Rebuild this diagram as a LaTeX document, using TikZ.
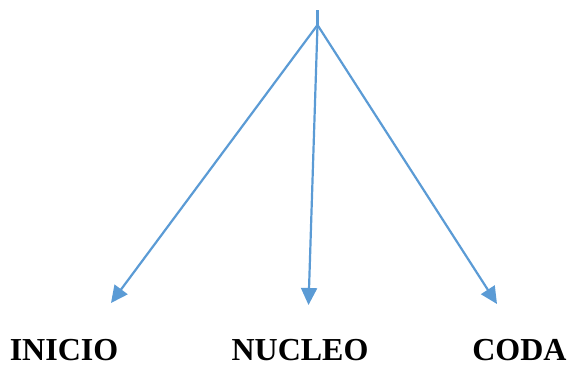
\documentclass[tikz,border=0pt]{standalone}
\usepackage{fontspec}
\setmainfont{Liberation Serif}
\usetikzlibrary{arrows.meta}
\definecolor{branchblue}{RGB}{91,155,213}
\tikzset{
	branch/.style={draw=branchblue, line width=2.2pt, -{Triangle[length=17pt,width=16pt]}},
	part/.style={font=\bfseries\fontsize{32}{36}\selectfont, anchor=base, inner sep=0pt}
}

\begin{document}
\begin{tikzpicture}[x=1pt, y=-1pt]
			%%%%% START %%%%%
			
			\useasboundingbox (0, 0) rectangle (568, 365);
			
			\coordinate (stem) at (317.5, 10);
			\coordinate (fork) at (317.5, 25);
			\coordinate (tipI) at (111, 303);
			\coordinate (tipN) at (308.5, 305);
			\coordinate (tipC) at (497, 304);
			
			\draw[draw=branchblue, line width=2.2pt] (stem) -- (fork);
			\draw[branch] (fork) -- (tipI);
			\draw[branch] (fork) -- (tipN);
			\draw[branch] (fork) -- (tipC);
			
			\node[part] (inicio) at (64, 360) {INICIO};
			\node[part] (nucleo) at (300, 360) {NUCLEO};
			\node[part] (coda) at (519.5, 360) {CODA};
			
			%%%%% END %%%%%
		\end{tikzpicture}
\end{document}
